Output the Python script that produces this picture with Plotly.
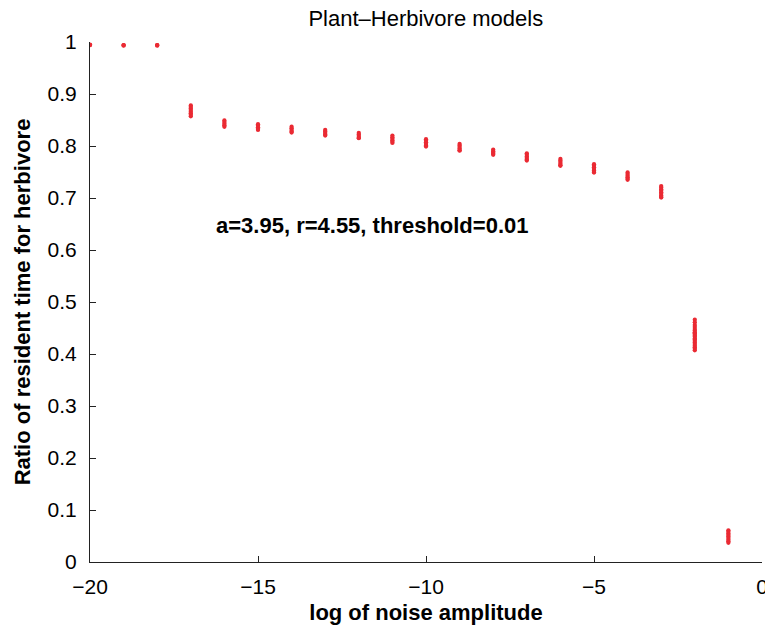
import plotly.graph_objects as go

# log10 of noise amplitude for each cluster of runs
noise_log = [-20, -19, -18, -17, -16, -15, -14, -13, -12, -11,
             -10, -9, -8, -7, -6, -5, -4, -3, -2, -1]

# ratio of resident time for herbivore, sampled runs per noise level
ratio_m20 = [0.994, 0.995, 0.994]
ratio_m19 = [0.994, 0.993, 0.994]
ratio_m18 = [0.994, 0.993, 0.994]
ratio_m17 = [0.878, 0.875, 0.872, 0.869, 0.866, 0.863, 0.860, 0.857]
ratio_m16 = [0.849, 0.846, 0.843, 0.840, 0.837]
ratio_m15 = [0.842, 0.839, 0.836, 0.833, 0.831]
ratio_m14 = [0.837, 0.834, 0.831, 0.828, 0.826]
ratio_m13 = [0.831, 0.828, 0.825, 0.822, 0.820]
ratio_m12 = [0.825, 0.822, 0.819, 0.816, 0.815]
ratio_m11 = [0.820, 0.817, 0.814, 0.811, 0.808, 0.806]
ratio_m10 = [0.813, 0.810, 0.807, 0.804, 0.801, 0.799]
ratio_m9 = [0.804, 0.801, 0.798, 0.795, 0.792, 0.791]
ratio_m8 = [0.793, 0.790, 0.787, 0.785, 0.783]
ratio_m7 = [0.786, 0.783, 0.780, 0.777, 0.774, 0.772]
ratio_m6 = [0.775, 0.772, 0.769, 0.766, 0.763, 0.762]
ratio_m5 = [0.765, 0.762, 0.759, 0.756, 0.753, 0.750, 0.749]
ratio_m4 = [0.749, 0.746, 0.743, 0.740, 0.737, 0.735]
ratio_m3 = [0.723, 0.720, 0.717, 0.714, 0.711, 0.708, 0.705, 0.702, 0.701]
ratio_m2 = [0.466, 0.461, 0.456, 0.452, 0.448, 0.445, 0.442, 0.440, 0.437,
            0.435, 0.433, 0.430, 0.428, 0.425, 0.422, 0.419, 0.416, 0.413,
            0.410, 0.407]
ratio_m1 = [0.061, 0.058, 0.055, 0.052, 0.049, 0.046, 0.043, 0.040, 0.037]

clusters = [ratio_m20, ratio_m19, ratio_m18, ratio_m17, ratio_m16, ratio_m15,
            ratio_m14, ratio_m13, ratio_m12, ratio_m11, ratio_m10, ratio_m9,
            ratio_m8, ratio_m7, ratio_m6, ratio_m5, ratio_m4, ratio_m3,
            ratio_m2, ratio_m1]

xs, ys = [], []
for xv, vals in zip(noise_log, clusters):
    xs.extend([xv] * len(vals))
    ys.extend(vals)

x_ticks = [-20, -15, -10, -5, 0]
x_labels = ["\u221220", "\u221215", "\u221210", "\u22125", "0"]
y_ticks = [0, 0.1, 0.2, 0.3, 0.4, 0.5, 0.6, 0.7, 0.8, 0.9, 1]
y_labels = ["0", "0.1", "0.2", "0.3", "0.4", "0.5", "0.6", "0.7", "0.8", "0.9", "1"]

title_text = "Plant\u2013Herbivore models"
x_title = "log of noise amplitude"
y_title = "Ratio of resident time for herbivore"
note_text = "a=3.95, r=4.55, threshold=0.01"

FONT = "Liberation Sans, Arial, Helvetica, sans-serif"

fig = go.Figure()
fig.add_trace(go.Scatter(
    x=xs, y=ys, mode="markers",
    marker=dict(size=4.3, color="#ea2a33", line=dict(width=0)),
    showlegend=False, hoverinfo="x+y",
))

fig.add_annotation(
    x=-11.6, y=0.647, xref="x", yref="y", text="<b>" + note_text + "</b>",
    showarrow=False, font=dict(family=FONT, size=22, color="black"),
)

fig.update_layout(
    width=765, height=625,
    margin=dict(l=90, r=3, t=42, b=63, pad=0),
    paper_bgcolor="white", plot_bgcolor="white",
    font=dict(family=FONT, size=21, color="black"),
    title=dict(text=title_text, x=0.5566, xanchor="center", y=0.97, yanchor="middle",
               font=dict(family=FONT, size=22, color="black")),
)

fig.update_xaxes(
    range=[-20, 0], tickvals=x_ticks, ticktext=x_labels,
    ticks="inside", ticklen=6, tickwidth=1, tickcolor="#222",
    showline=True, linecolor="#222", linewidth=1.2, mirror=False,
    showgrid=False, zeroline=False, ticklabelstandoff=6,
    ticklabeloverflow="allow", automargin=False,
    tickfont=dict(family=FONT, size=21),
    title=dict(text="<b>" + x_title + "</b>", font=dict(family=FONT, size=22), standoff=10),
)
fig.update_yaxes(
    range=[0, 1], tickvals=y_ticks, ticktext=y_labels,
    ticks="inside", ticklen=6, tickwidth=1, tickcolor="#222",
    showline=True, linecolor="#222", linewidth=1.2, mirror=False,
    showgrid=False, zeroline=False, ticklabelstandoff=8,
    automargin=False,
    tickfont=dict(family=FONT, size=21),
    title=dict(text="<b>" + y_title + "</b>", font=dict(family=FONT, size=22), standoff=10),
)

fig.write_html(
    "out.html",
    config={"displayModeBar": False},
    post_script="document.body.style.margin='0';document.body.style.overflow='hidden';",
)
